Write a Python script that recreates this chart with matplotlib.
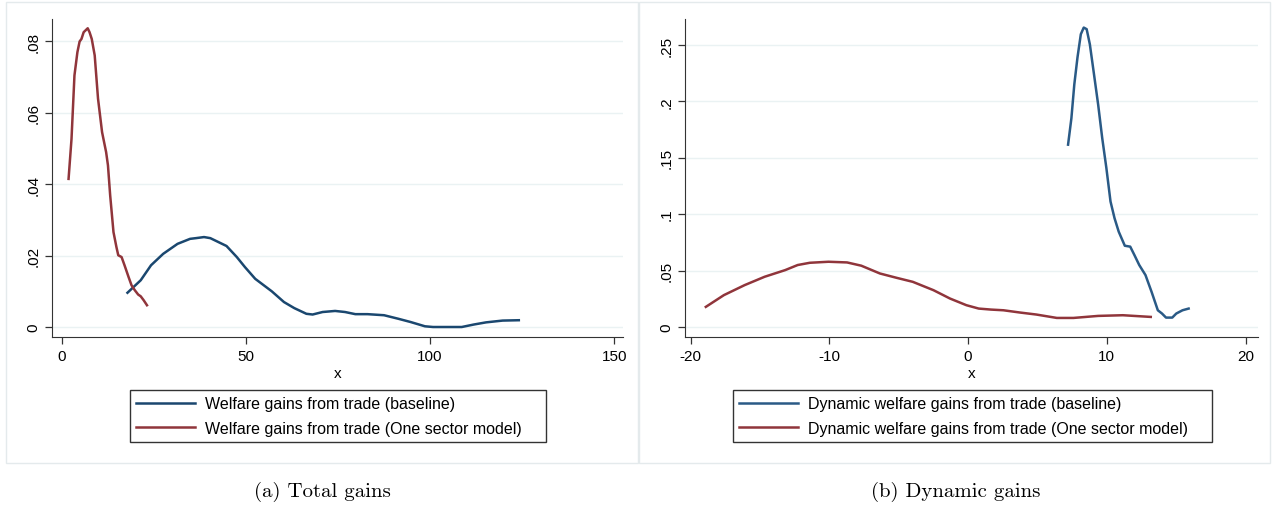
import matplotlib
matplotlib.use("Agg")
import matplotlib.pyplot as plt
from matplotlib.patches import Rectangle

# Panel (a): total gains
a_base_x = [17.8, 21.4, 24.2, 27.5, 31.4, 34.8, 36.4, 38.6, 40.3, 44.7, 47.5, 49.7,
            52.5, 57.0, 60.3, 63.1, 66.4, 68.1, 70.8, 74.2, 76.9, 79.7, 83.0, 87.5,
            91.4, 94.7, 98.6, 100.8, 108.6, 111.9, 115.2, 119.7, 124.1]
a_base_y = [0.0096, 0.0131, 0.0173, 0.0205, 0.0233, 0.0247, 0.0249, 0.0252, 0.0249,
            0.0227, 0.0196, 0.0168, 0.0135, 0.0100, 0.0070, 0.0053, 0.0037, 0.0035,
            0.0042, 0.0045, 0.0042, 0.0036, 0.0036, 0.0033, 0.0023, 0.0014, 0.0002,
            0.0, 0.0, 0.0007, 0.0013, 0.0018, 0.0019]
a_one_x = [1.8, 2.6, 3.4, 4.2, 4.8, 5.3, 5.9, 6.4, 7.0, 7.5, 8.1, 8.9, 9.8, 10.9,
           12.0, 12.5, 13.1, 14.0, 14.8, 15.3, 16.2, 17.0, 18.1, 18.9, 19.8, 20.7,
           21.4, 22.2, 23.1]
a_one_y = [0.0415, 0.0527, 0.0705, 0.077, 0.080, 0.0807, 0.0826, 0.0831, 0.0837,
           0.0826, 0.0807, 0.0761, 0.064, 0.0546, 0.049, 0.0453, 0.0369, 0.0266,
           0.0224, 0.0201, 0.0196, 0.0173, 0.014, 0.0117, 0.0103, 0.0091, 0.0086,
           0.0075, 0.0061]

# Panel (b): dynamic gains
b_base_x = [7.21, 7.45, 7.66, 7.89, 8.13, 8.34, 8.55, 8.78, 9.08, 9.38, 9.67, 9.97,
            10.27, 10.56, 10.86, 11.3, 11.69, 11.99, 12.34, 12.79, 13.23, 13.68,
            13.98, 14.27, 14.72, 15.01, 15.46, 15.9]
b_base_y = [0.1616, 0.185, 0.215, 0.239, 0.2595, 0.2654, 0.264, 0.2506, 0.2239,
            0.197, 0.1676, 0.141, 0.1112, 0.0964, 0.0845, 0.072, 0.0712, 0.0638,
            0.0549, 0.046, 0.0311, 0.0148, 0.0119, 0.0083, 0.0083, 0.0119, 0.0148,
            0.0163]
b_one_x = [-18.9, -17.6, -16.1, -14.66, -13.18, -12.28, -11.4, -10.06, -8.72, -7.69,
           -6.35, -5.16, -3.98, -2.49, -1.3, -0.12, 0.77, 1.66, 2.55, 3.74, 4.93,
           6.4, 7.6, 9.38, 11.16, 13.17]
b_one_y = [0.0178, 0.0282, 0.0371, 0.0445, 0.0504, 0.0549, 0.0569, 0.0578, 0.0572,
           0.0543, 0.0474, 0.0436, 0.040, 0.0326, 0.0252, 0.0193, 0.0163, 0.0154,
           0.0148, 0.0128, 0.011, 0.008, 0.008, 0.0098, 0.0104, 0.0089]

a_xticks = [0, 50, 100, 150]
a_yticks = [0, 0.02, 0.04, 0.06, 0.08]
a_ylabels = ["0", ".02", ".04", ".06", ".08"]
b_xticks = [-20, -10, 0, 10, 20]
b_yticks = [0, 0.05, 0.1, 0.15, 0.2, 0.25]
b_ylabels = ["0", ".05", ".1", ".15", ".2", ".25"]

navy = "#1a476f"
maroon = "#90353b"
grid_c = "#eaf2f3"

plt.rcParams["font.family"] = ["Liberation Sans", "DejaVu Sans"]

fig = plt.figure(figsize=(12.75, 5.1), dpi=100)

# light panel frames
for x0, x1 in [(6, 638), (639, 1270)]:
    fig.patches.append(Rectangle((x0 / 1275, (510 - 464) / 510), (x1 - x0) / 1275,
                                 461 / 510, transform=fig.transFigure, fill=False,
                                 edgecolor="#e4eaec", lw=1.0))


def style(ax, xticks, yticks, ylabels, xlim, ylim):
    ax.set_xlim(*xlim)
    ax.set_ylim(*ylim)
    ax.set_xticks(xticks)
    ax.set_xticklabels([str(t) for t in xticks])
    ax.set_yticks(yticks)
    ax.set_yticklabels(ylabels, rotation=90, va="center")
    ax.spines["top"].set_visible(False)
    ax.spines["right"].set_visible(False)
    ax.spines["left"].set_color("#333333")
    ax.spines["bottom"].set_color("#333333")
    ax.tick_params(direction="out", length=5, width=0.9, color="#333333",
                   labelsize=11)
    ax.yaxis.grid(True, color=grid_c, lw=1.0)
    ax.set_axisbelow(True)
    ax.set_xlabel("x", fontsize=11, labelpad=2)


def legend(ax, x0, w):
    leg = ax.legend(loc="upper left", bbox_to_anchor=(x0, -56 / 318, w, 0.01),
                    mode="expand", borderaxespad=0, fontsize=11.5, frameon=True,
                    fancybox=False, edgecolor="#000000", handlelength=3.7,
                    handletextpad=0.6, borderpad=0.4, labelspacing=0.6)
    leg.get_frame().set_linewidth(1.0)


ax1 = fig.add_axes([52 / 1275, (510 - 338) / 510, 571 / 1275, 318 / 510])
ax1.plot(a_base_x, a_base_y, color=navy, lw=1.8,
         label="Welfare gains from trade (baseline)")
ax1.plot(a_one_x, a_one_y, color=maroon, lw=1.8,
         label="Welfare gains from trade (One sector model)")
style(ax1, a_xticks, a_yticks, a_ylabels, (-2.7, 152.4), (-0.0028, 0.0863))
legend(ax1, 78 / 571, 416 / 571)

ax2 = fig.add_axes([685 / 1275, (510 - 338) / 510, 573 / 1275, 318 / 510])
ax2.plot(b_base_x, b_base_y, color="#2a5a86", lw=1.8,
         label="Dynamic welfare gains from trade (baseline)")
ax2.plot(b_one_x, b_one_y, color=maroon, lw=1.8,
         label="Dynamic welfare gains from trade (One sector model)")
style(ax2, b_xticks, b_yticks, b_ylabels, (-20.4, 20.9), (-0.0089, 0.273))
legend(ax2, 48 / 573, 479 / 573)

fig.text(322 / 1275, 1 - 492 / 510, "(a) Total gains", ha="center", va="center",
         family="cmr10", fontsize=15)
fig.text(956 / 1275, 1 - 492 / 510, "(b) Dynamic gains", ha="center", va="center",
         family="cmr10", fontsize=15)

fig.savefig("out.png", dpi=100)
